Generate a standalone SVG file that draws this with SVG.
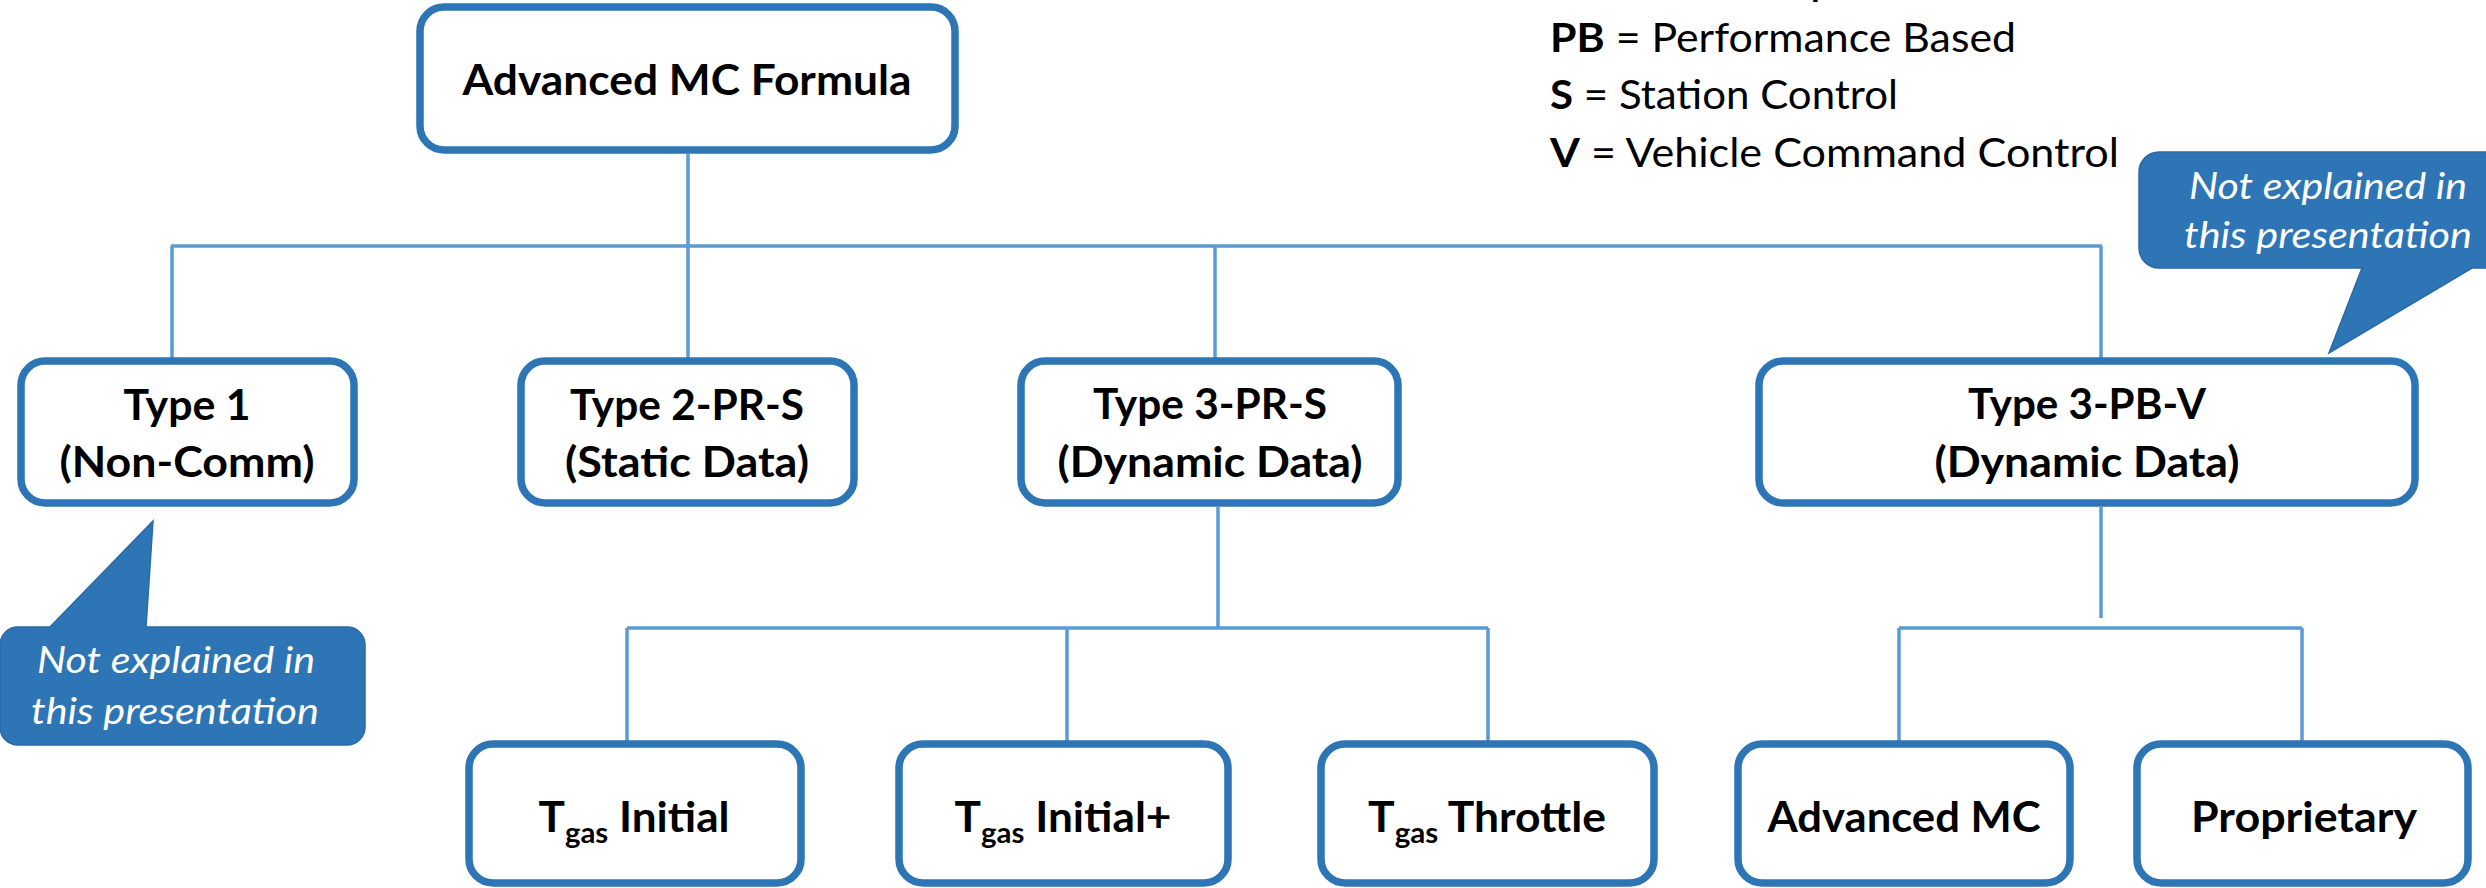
<svg xmlns="http://www.w3.org/2000/svg" width="2486" height="888" viewBox="0 0 2486 888">
<style>
.box{fill:#ffffff;stroke:#2E75B6;stroke-width:7.5}
.lbl{font-family:Lato,"Open Sans","Liberation Sans",sans-serif;font-weight:bold;font-size:42px;fill:#000000;text-anchor:middle}
.sub{font-size:28px}
.conn{stroke:#5B9BD5;stroke-width:3.5;fill:none}
.call{fill:#2E75B6;stroke:#2A69A4;stroke-width:1.5}
.ctxt{font-family:Lato,"Open Sans","Liberation Sans",sans-serif;font-style:italic;font-size:37px;fill:#ffffff;text-anchor:middle}
.leg{font-family:Lato,"Open Sans","Liberation Sans",sans-serif;font-size:41px;fill:#000000}
.b{font-weight:bold}
</style>
<rect width="2486" height="888" fill="#ffffff"/>
<g id="connectors">
<path class="conn" d="M688 154V246M171 246H2102M172 246V358M688 246V358M1215 246V358M2101 246V358"/>
<path class="conn" d="M1218 507V628M627 628H1488M627 628V741M1067 628V741M1488 628V741"/>
<path class="conn" d="M2101 507V618M1899 628H2302M1899 628V741M2302 628V741"/>
</g>
<g id="legend">
<text class="leg" x="1550" y="-5" textLength="367" lengthAdjust="spacingAndGlyphs"><tspan class="b">PR</tspan> = Prescriptive</text>
<text class="leg" x="1550" y="52" textLength="466" lengthAdjust="spacingAndGlyphs"><tspan class="b">PB</tspan> = Performance Based</text>
<text class="leg" x="1550" y="109" textLength="348" lengthAdjust="spacingAndGlyphs"><tspan class="b">S</tspan> = Station Control</text>
<text class="leg" x="1550" y="167" textLength="569" lengthAdjust="spacingAndGlyphs"><tspan class="b">V</tspan> = Vehicle Command Control</text>
</g>
<g id="root">
<rect class="box" x="420" y="7" width="535" height="143" rx="24"/>
<text class="lbl" x="687" y="95" textLength="449" lengthAdjust="spacingAndGlyphs">Advanced MC Formula</text>
</g>
<g id="type1">
<rect class="box" x="21" y="361" width="333" height="142" rx="24"/>
<text class="lbl" x="187" y="420" textLength="127" lengthAdjust="spacingAndGlyphs">Type 1</text>
<text class="lbl" x="187" y="477" textLength="255" lengthAdjust="spacingAndGlyphs">(Non-Comm)</text>
</g>
<g id="type2">
<rect class="box" x="521" y="361" width="333" height="142" rx="24"/>
<text class="lbl" x="687" y="420" textLength="234" lengthAdjust="spacingAndGlyphs">Type 2-PR-S</text>
<text class="lbl" x="687" y="477" textLength="244" lengthAdjust="spacingAndGlyphs">(Static Data)</text>
</g>
<g id="type3prs">
<rect class="box" x="1021" y="361" width="377" height="142" rx="24"/>
<text class="lbl" x="1210" y="419" textLength="234" lengthAdjust="spacingAndGlyphs">Type 3-PR-S</text>
<text class="lbl" x="1210" y="477" textLength="305" lengthAdjust="spacingAndGlyphs">(Dynamic Data)</text>
</g>
<g id="type3pbv">
<rect class="box" x="1759" y="361" width="656" height="142" rx="24"/>
<text class="lbl" x="2087" y="419" textLength="238" lengthAdjust="spacingAndGlyphs">Type 3-PB-V</text>
<text class="lbl" x="2087" y="477" textLength="305" lengthAdjust="spacingAndGlyphs">(Dynamic Data)</text>
</g>
<g id="tgas-initial">
<rect class="box" x="469" y="744" width="332" height="139" rx="24"/>
<text class="lbl" x="634" y="832" textLength="191" lengthAdjust="spacingAndGlyphs">T<tspan class="sub" dy="11">gas</tspan><tspan dy="-11"> Initial</tspan></text>
</g>
<g id="tgas-initial-plus">
<rect class="box" x="899" y="744" width="329" height="139" rx="24"/>
<text class="lbl" x="1063" y="832" textLength="217" lengthAdjust="spacingAndGlyphs">T<tspan class="sub" dy="11">gas</tspan><tspan dy="-11"> Initial+</tspan></text>
</g>
<g id="tgas-throttle">
<rect class="box" x="1321" y="744" width="333" height="139" rx="24"/>
<text class="lbl" x="1487" y="832" textLength="238" lengthAdjust="spacingAndGlyphs">T<tspan class="sub" dy="11">gas</tspan><tspan dy="-11"> Throttle</tspan></text>
</g>
<g id="advanced-mc">
<rect class="box" x="1738" y="744" width="332" height="139" rx="24"/>
<text class="lbl" x="1904" y="832" textLength="273" lengthAdjust="spacingAndGlyphs">Advanced MC</text>
</g>
<g id="proprietary">
<rect class="box" x="2137" y="744" width="331" height="139" rx="24"/>
<text class="lbl" x="2304" y="832" textLength="226" lengthAdjust="spacingAndGlyphs">Proprietary</text>
</g>
<g id="callout-left">
<path class="call" d="M0 645A18 18 0 0 1 18 627H50L153 521L146 627H347A18 18 0 0 1 365 645V727A18 18 0 0 1 347 745H18A18 18 0 0 1 0 727Z"/>
<text class="ctxt" x="176" y="673" textLength="278" lengthAdjust="spacingAndGlyphs">Not explained in</text>
<text class="ctxt" x="175" y="724" textLength="288" lengthAdjust="spacingAndGlyphs">this presentation</text>
</g>
<g id="callout-right">
<path class="call" d="M2159 152H2530V268H2472L2329 353L2362 268H2159A20 20 0 0 1 2139 248V172A20 20 0 0 1 2159 152Z"/>
<text class="ctxt" x="2328" y="199" textLength="278" lengthAdjust="spacingAndGlyphs">Not explained in</text>
<text class="ctxt" x="2328" y="248" textLength="288" lengthAdjust="spacingAndGlyphs">this presentation</text>
</g>
</svg>
